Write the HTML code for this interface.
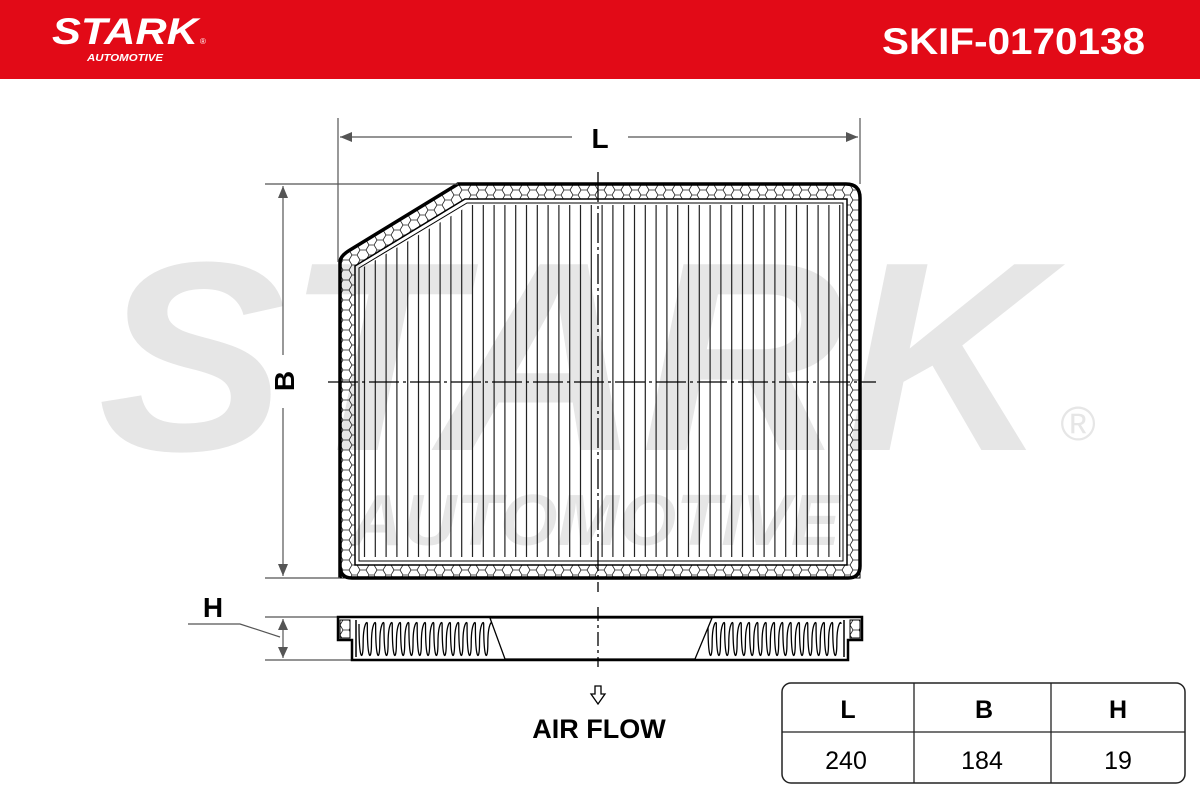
<!DOCTYPE html>
<html><head><meta charset="utf-8"><style>
html,body{margin:0;padding:0;background:#fff;width:1200px;height:800px;overflow:hidden}
svg{display:block}
</style></head><body>
<svg id="s" width="1200" height="800" viewBox="0 0 1200 800" xmlns="http://www.w3.org/2000/svg" font-family="Liberation Sans, sans-serif">
<defs>
<pattern id="hex" width="17" height="10" patternUnits="userSpaceOnUse">
<path d="M0 5 L3 0 L9 0 L12 5 L9 10 L3 10 Z M12 5 L17 5" fill="none" stroke="#222" stroke-width="0.8"/>
</pattern>
<pattern id="hexw" width="17" height="10" patternUnits="userSpaceOnUse">
<rect width="17" height="10" fill="#fff"/>
<path d="M0 5 L3 0 L9 0 L12 5 L9 10 L3 10 Z M12 5 L17 5" fill="none" stroke="#222" stroke-width="0.8"/>
</pattern>
<clipPath id="inner"><polygon points="362,268 470,205 842,205 842,557 362,557"/></clipPath>
</defs>
<rect x="0" y="0" width="1200" height="79" fill="#e20a17"/>
<text x="52" y="44" font-size="37" font-weight="bold" font-style="italic" fill="#fff" textLength="146" lengthAdjust="spacingAndGlyphs">STARK</text>
<text x="200" y="44" font-size="8" fill="#fff">®</text>
<text x="87" y="61" font-size="10" font-weight="bold" font-style="italic" fill="#fff" textLength="76" lengthAdjust="spacingAndGlyphs">AUTOMOTIVE</text>
<text x="882" y="54" font-size="37" font-weight="bold" fill="#fff" textLength="263" lengthAdjust="spacingAndGlyphs">SKIF-0170138</text>

<!-- watermark -->
<text x="98" y="450" font-size="270" font-weight="bold" font-style="italic" fill="#e6e6e6" textLength="950" lengthAdjust="spacingAndGlyphs">STARK</text>
<text x="1078" y="440" font-size="48" fill="#e6e6e6" text-anchor="middle">®</text>
<text x="350" y="545" font-size="72" font-weight="bold" font-style="italic" fill="#e6e6e6" textLength="490" lengthAdjust="spacingAndGlyphs">AUTOMOTIVE</text>

<!-- filter frame band -->
<path fill-rule="evenodd" fill="url(#hex)" stroke="#000" stroke-width="1"
 d="M340 262 Q340 256 350 250 L458 184 L846 184 Q860 184 860 198 L860 578 L340 578 Z
    M355 266 L465 199 L847 199 L847 565 L355 565 Z"/>
<path fill="none" stroke="#000" stroke-width="3.5" d="M340 578 L340 262 Q340 256 350 250 L458 184 L846 184 Q860 184 860 198 L860 566 Q860 578 848 578 L352 578 Q340 578 340 566"/>
<path fill="none" stroke="#000" stroke-width="1.5" d="M355 266 L465 199 L847 199 L847 565 L355 565 Z"/>
<path fill="none" stroke="#000" stroke-width="1" d="M359 268 L467 203 L843 203 L843 561 L359 561 Z"/>
<g id="pleats" clip-path="url(#inner)" stroke="#222" stroke-width="1.2"></g>

<!-- center lines -->
<line x1="598" y1="172" x2="598" y2="592" stroke="#000" stroke-width="1.3" stroke-dasharray="30,4,3,4"/>
<line x1="328" y1="382" x2="876" y2="382" stroke="#000" stroke-width="1.3" stroke-dasharray="30,4,3,4"/>

<!-- dimensions -->
<g stroke="#555" stroke-width="1.2" fill="none">
<line x1="338" y1="118" x2="338" y2="262"/>
<line x1="860" y1="118" x2="860" y2="184"/>
<line x1="340" y1="137" x2="572" y2="137"/>
<line x1="628" y1="137" x2="858" y2="137"/>
<line x1="265" y1="184" x2="458" y2="184"/>
<line x1="265" y1="578" x2="340" y2="578"/>
<line x1="283" y1="186" x2="283" y2="355"/>
<line x1="283" y1="408" x2="283" y2="576"/>
<line x1="265" y1="617" x2="338" y2="617"/>
<line x1="265" y1="660" x2="352" y2="660"/>
<line x1="283" y1="619" x2="283" y2="658"/>
<polyline points="188,624 240,624 280,637"/>
</g>
<g fill="#555">
<polygon points="340,137 352,132 352,142"/><polygon points="858,137 846,132 846,142"/>
<polygon points="283,186 278,198 288,198"/><polygon points="283,576 278,564 288,564"/>
<polygon points="283,619 278,630 288,630"/><polygon points="283,658 278,647 288,647"/>
</g>
<text x="600" y="148" font-size="28" font-weight="bold" text-anchor="middle">L</text>
<text transform="translate(294,381) rotate(-90)" font-size="28" font-weight="bold" text-anchor="middle">B</text>
<text x="213" y="617" font-size="28" font-weight="bold" text-anchor="middle">H</text>

<!-- side view -->
<path fill="#fff" stroke="#000" stroke-width="2.5" d="M338 617 L862 617 L862 640 L848 640 L848 660 L352 660 L352 640 L338 640 Z"/>
<path fill="url(#hexw)" stroke="#000" stroke-width="1" d="M340 620 L350 620 L350 638 L340 638 Z M850 620 L860 620 L860 638 L850 638 Z"/>
<line x1="356" y1="620" x2="356" y2="657" stroke="#000" stroke-width="1.5"/>
<line x1="844" y1="620" x2="844" y2="657" stroke="#000" stroke-width="1.5"/>
<path id="pl" fill="none" stroke="#000" stroke-width="1.3"/>
<path id="pr" fill="none" stroke="#000" stroke-width="1.3"/>
<path fill="#fff" stroke="#000" stroke-width="1.3" d="M490 618 L505 659 L695 659 L712 618 Z"/>
<line x1="598" y1="607" x2="598" y2="667" stroke="#000" stroke-width="1.3" stroke-dasharray="14,4,3,4"/>
<path d="M595 686 L601 686 L601 694 L605 694 L598 704 L591 694 L595 694 Z" fill="#fff" stroke="#000" stroke-width="1.3"/>
<text x="599" y="738" font-size="27" font-weight="bold" text-anchor="middle">AIR FLOW</text>

<!-- table -->
<rect x="782" y="683" width="403" height="100" rx="9" fill="#fff" stroke="#222" stroke-width="1.5"/>
<line x1="782" y1="732" x2="1185" y2="732" stroke="#222" stroke-width="1.3"/>
<line x1="914" y1="683" x2="914" y2="783" stroke="#222" stroke-width="1.3"/>
<line x1="1051" y1="683" x2="1051" y2="783" stroke="#222" stroke-width="1.3"/>
<g font-size="25" text-anchor="middle">
<text x="848" y="718" font-weight="bold">L</text>
<text x="984" y="718" font-weight="bold">B</text>
<text x="1118" y="718" font-weight="bold">H</text>
<text x="846" y="769">240</text>
<text x="982" y="769">184</text>
<text x="1118" y="769">19</text>
</g>
</svg>
<script>
var ns="http://www.w3.org/2000/svg",g=document.getElementById("pleats");
for(var x=364.5;x<842;x+=10.8){var l=document.createElementNS(ns,"line");l.setAttribute("x1",x);l.setAttribute("x2",x);l.setAttribute("y1",195);l.setAttribute("y2",561);g.appendChild(l);}
function wave(a,b){var d="",n=Math.round((b-a)/8.2),w=(b-a)/n;for(var i=0;i<n;i++){var x=a+i*w;d+=(i?"":"M"+x+" 624 ")+"C"+x+" 662 "+(x+w/2)+" 662 "+(x+w/2)+" 643 S"+(x+w)+" 620 "+(x+w)+" 624 ";}return d;}
document.getElementById("pl").setAttribute("d",wave(359,492));
document.getElementById("pr").setAttribute("d",wave(708,841));
</script>
</body></html>
